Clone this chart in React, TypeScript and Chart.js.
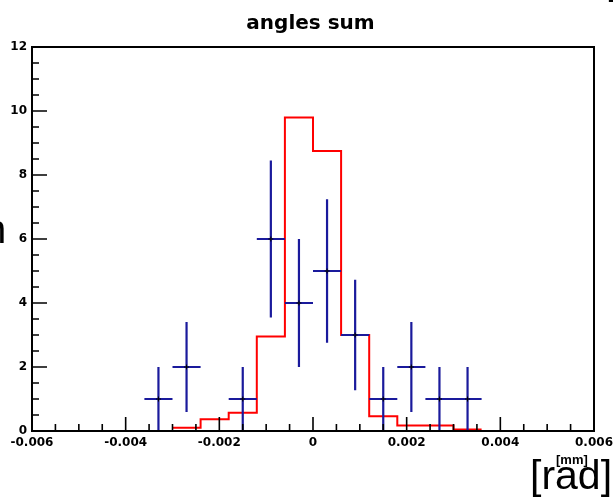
import React, { useEffect, useRef } from "react";
import { Chart, registerables } from "chart.js";

Chart.register(...registerables);

const titleText = "angles sum";
const xTicks = [-0.006, -0.004, -0.002, 0, 0.002, 0.004, 0.006];
const yTicks = [0, 2, 4, 6, 8, 10, 12];
const binWidth = 0.0006;

// MC histogram (red step line): bin edges and contents
const mcBinEdges = [-0.003, -0.0024, -0.0018, -0.0012, -0.0006, 0, 0.0006, 0.0012, 0.0018, 0.0024, 0.003, 0.0036];
const mcValues = [0.1, 0.37, 0.57, 2.95, 9.8, 8.75, 3.0, 0.46, 0.17, 0.17, 0.05];

// data points (blue crosses with error bars)
const dataCenters = [-0.0033, -0.0027, -0.0015, -0.0009, -0.0003, 0.0003, 0.0009, 0.0015, 0.0021, 0.0027, 0.0033];
const dataCounts = [1, 2, 1, 6, 4, 5, 3, 1, 2, 1, 1];
const dataErrors = [1, 1.41, 1, 2.45, 2, 2.24, 1.73, 1, 1.41, 1, 1];

const blue = "#1a1a9c";
const tickFont = { family: "'DejaVu Sans', sans-serif", weight: "bold" as const, size: 12 };

const rootFramePlugin = {
  id: "rootFrame",
  afterDatasetsDraw(chart: any) {
    const { ctx, chartArea: a, scales } = chart;
    const xs = scales.x;
    const ys = scales.y;
    ctx.save();
    ctx.strokeStyle = "#000";
    ctx.lineWidth = 2;
    ctx.strokeRect(a.left, a.top, a.right - a.left, a.bottom - a.top);
    ctx.lineWidth = 1.6;
    ctx.beginPath();
    for (let i = 0; i < xTicks.length; i++) {
      const v = xTicks[i];
      const px = xs.getPixelForValue(v);
      ctx.moveTo(px, a.bottom);
      ctx.lineTo(px, a.bottom - 14);
      if (i < xTicks.length - 1) {
        const step = (xTicks[i + 1] - v) / 4;
        for (let k = 1; k < 4; k++) {
          const p = xs.getPixelForValue(v + k * step);
          ctx.moveTo(p, a.bottom);
          ctx.lineTo(p, a.bottom - 7);
        }
      }
    }
    for (let i = 0; i < yTicks.length; i++) {
      const v = yTicks[i];
      const py = ys.getPixelForValue(v);
      ctx.moveTo(a.left, py);
      ctx.lineTo(a.left + 15, py);
      if (i < yTicks.length - 1) {
        const step = (yTicks[i + 1] - v) / 4;
        for (let k = 1; k < 4; k++) {
          const p = ys.getPixelForValue(v + k * step);
          ctx.moveTo(a.left, p);
          ctx.lineTo(a.left + 7, p);
        }
      }
    }
    ctx.stroke();
    ctx.restore();
  },
};

export default function App() {
  const canvasRef = useRef<HTMLCanvasElement | null>(null);

  useEffect(() => {
    if (!canvasRef.current) return;

    const mcPoints = mcBinEdges.map((e, i) => ({
      x: e,
      y: i < mcValues.length ? mcValues[i] : mcValues[mcValues.length - 1],
    }));

    const vBars: any[] = [];
    const hBars: any[] = [];
    dataCenters.forEach((c, i) => {
      const v = dataCounts[i];
      const e = dataErrors[i];
      vBars.push({ x: c, y: v - e }, { x: c, y: v + e }, { x: c, y: null });
      hBars.push({ x: c - binWidth / 2, y: v }, { x: c + binWidth / 2, y: v }, { x: c + binWidth / 2, y: null });
    });
    const markers = dataCenters.map((c, i) => ({ x: c, y: dataCounts[i] }));

    const chart = new Chart(canvasRef.current, {
      type: "line",
      data: {
        datasets: [
          {
            data: markers,
            showLine: false,
            pointStyle: "cross",
            pointRadius: 2.5,
            pointBorderColor: "#000",
            pointBorderWidth: 1,
            borderColor: "#000",
          } as any,
          {
            data: vBars,
            borderColor: blue,
            borderWidth: 2.2,
            pointRadius: 0,
            spanGaps: false,
            tension: 0,
          },
          {
            data: hBars,
            borderColor: blue,
            borderWidth: 2.2,
            pointRadius: 0,
            spanGaps: false,
            tension: 0,
          },
          {
            data: mcPoints,
            borderColor: "#ff0000",
            borderWidth: 2,
            pointRadius: 0,
            stepped: "before",
          } as any,
        ],
      },
      options: {
        animation: false,
        responsive: false,
        devicePixelRatio: 1,
        layout: { padding: { left: 8, right: 0, top: 0, bottom: 0 } },
        plugins: {
          legend: { display: false },
          tooltip: { enabled: false },
          title: {
            display: true,
            text: titleText,
            color: "#000",
            font: { family: "'DejaVu Sans', sans-serif", weight: "bold", size: 20 },
            padding: { top: 12, bottom: 11 },
          },
        },
        scales: {
          x: {
            type: "linear",
            min: -0.006,
            max: 0.006,
            afterBuildTicks: (s: any) => {
              s.ticks = xTicks.map((v) => ({ value: v }));
            },
            afterFit: (s: any) => {
              s.height = 68;
              s.paddingLeft = 0;
              s.paddingRight = 19;
            },
            grid: { display: false, drawTicks: false },
            border: { display: false },
            ticks: {
              autoSkip: false,
              maxRotation: 0,
              padding: 5,
              color: "#000",
              font: tickFont,
              callback: (v: any) => (Number(v) === 0 ? "0" : Number(v).toFixed(3)),
            },
          },
          y: {
            type: "linear",
            min: 0,
            max: 12,
            afterBuildTicks: (s: any) => {
              s.ticks = yTicks.map((v) => ({ value: v }));
            },
            afterFit: (s: any) => {
              s.width = 24;
            },
            grid: { display: false, drawTicks: false },
            border: { display: false },
            ticks: {
              autoSkip: false,
              padding: 5,
              color: "#000",
              font: tickFont,
              callback: (v: any) => String(v),
            },
          },
        },
      } as any,
      plugins: [rootFramePlugin],
    });

    return () => chart.destroy();
  }, []);

  const frag: React.CSSProperties = {
    position: "absolute",
    fontFamily: "'Liberation Sans', Arial, sans-serif",
    color: "#000",
    whiteSpace: "nowrap",
  };

  return (
    <div
      style={{
        position: "absolute",
        left: 0,
        top: 0,
        width: 613,
        height: 499,
        overflow: "hidden",
        background: "#fff",
      }}
    >
      <canvas ref={canvasRef} width={613} height={499} style={{ display: "block" }} />
      <div style={{ ...frag, left: -16, top: 209, fontSize: 40, lineHeight: "40px" }}>n</div>
      <div style={{ ...frag, left: 606, top: -40, fontSize: 40, lineHeight: "40px" }}>[</div>
      <div style={{ ...frag, left: 556, top: 453, fontSize: 13, lineHeight: "13px", fontWeight: "bold" }}>[mm]</div>
      <div style={{ ...frag, left: 530, top: 455, fontSize: 41, lineHeight: "41px" }}>[rad]</div>
    </div>
  );
}
